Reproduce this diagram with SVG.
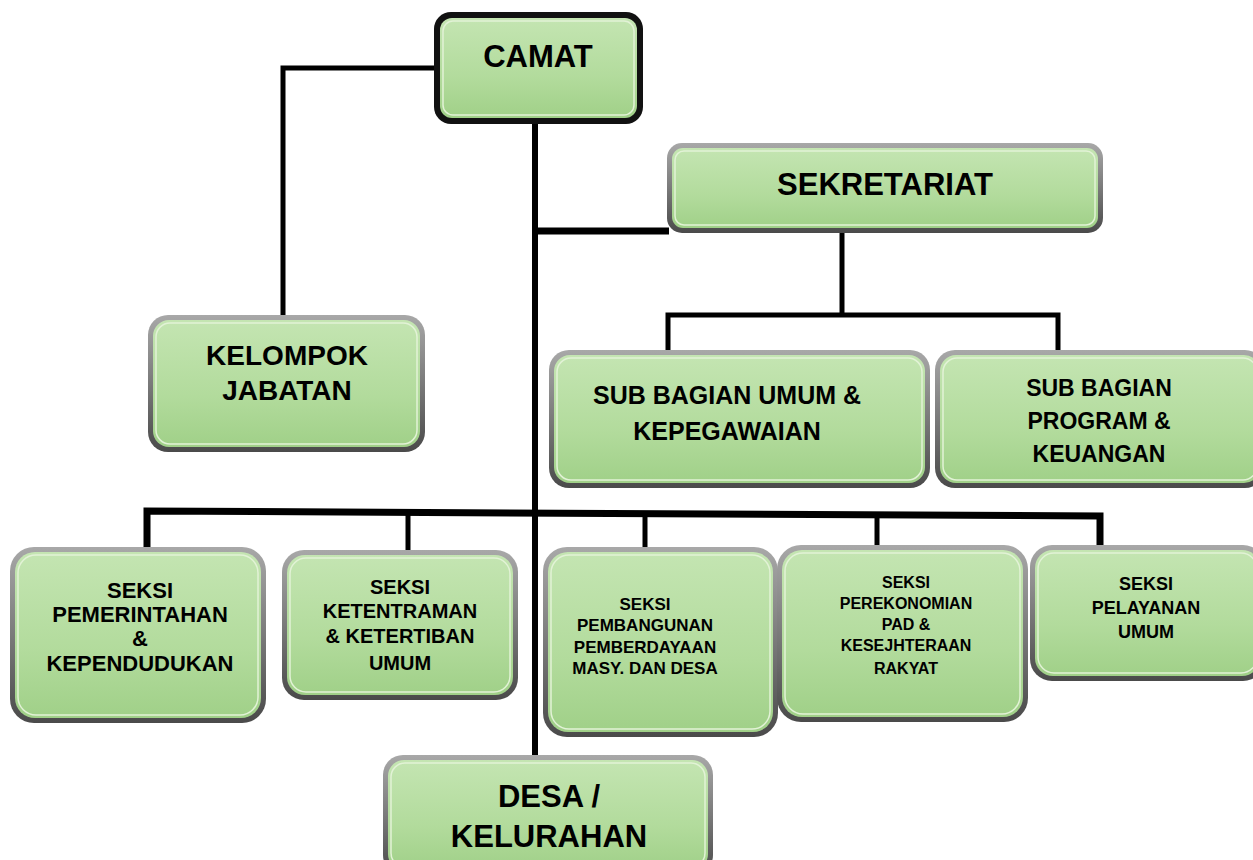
<svg xmlns="http://www.w3.org/2000/svg" width="1253" height="860" viewBox="0 0 1253 860">
<defs>
<linearGradient id="frame" x1="0" y1="0" x2="0" y2="1">
<stop offset="0" stop-color="#a8a8a8"/>
<stop offset="0.5" stop-color="#7a7a7a"/>
<stop offset="1" stop-color="#4a4a4a"/>
</linearGradient>
<linearGradient id="green" x1="0" y1="0" x2="0" y2="1">
<stop offset="0" stop-color="#c4e5b2"/>
<stop offset="0.6" stop-color="#b2db9c"/>
<stop offset="1" stop-color="#a0d088"/>
</linearGradient>
</defs>
<style>
.frame{fill:url(#frame);}
.frameB{fill:#111111;}
.fill{fill:url(#green);}
.hl{fill:none;stroke:#e2f2d6;stroke-width:1.5;}
.t{font-family:"Liberation Sans",Arial,sans-serif;font-weight:bold;fill:#000;text-anchor:middle;}
.ln{fill:none;stroke:#000;stroke-linejoin:miter;stroke-linecap:butt;}
</style>
<rect width="1253" height="860" fill="#ffffff"/>

<g id="connectors">
<path class="ln" d="M434,68 H283 V316" stroke-width="5"/>
<path class="ln" d="M535,124 V756" stroke-width="6"/>
<path class="ln" d="M535,231 H669" stroke-width="7"/>
<path class="ln" d="M842,233 V315" stroke-width="5"/>
<path class="ln" d="M668,351 V315 H1058 V351" stroke-width="5"/>
<path class="ln" d="M147,548 V511 L1100,516 V546" stroke-width="7"/>
<path class="ln" d="M408,513 V550" stroke-width="5"/>
<path class="ln" d="M645,514 V548" stroke-width="5"/>
<path class="ln" d="M877,515 V545" stroke-width="5"/>
</g>

<g id="camat">
<rect class="frameB" x="434" y="12" width="209" height="112" rx="17"/>
<rect class="fill" x="440" y="18" width="197" height="100" rx="12"/>
<rect class="hl" x="443" y="21" width="191" height="94" rx="10"/>
<text class="t" x="538" y="67" font-size="31">CAMAT</text>
</g>

<g id="sekretariat">
<rect class="frame" x="667" y="143" width="436" height="90" rx="15"/>
<rect class="fill" x="672" y="148" width="426" height="80" rx="11"/>
<rect class="hl" x="675" y="151" width="420" height="74" rx="9"/>
<text class="t" x="885" y="195" font-size="31">SEKRETARIAT</text>
</g>

<g id="kelompok-jabatan">
<rect class="frame" x="148" y="315" width="277" height="137" rx="20"/>
<rect class="fill" x="153" y="320" width="267" height="127" rx="16"/>
<rect class="hl" x="156" y="323" width="261" height="121" rx="14"/>
<text class="t" x="287" y="365" font-size="28">KELOMPOK</text>
<text class="t" x="287" y="400" font-size="28">JABATAN</text>
</g>

<g id="sub-umum">
<rect class="frame" x="549" y="350" width="381" height="138" rx="20"/>
<rect class="fill" x="554" y="355" width="371" height="128" rx="16"/>
<rect class="hl" x="557" y="358" width="365" height="122" rx="14"/>
<text class="t" x="727" y="404" font-size="25">SUB BAGIAN UMUM &amp;</text>
<text class="t" x="727" y="440" font-size="25">KEPEGAWAIAN</text>
</g>

<g id="sub-program">
<rect class="frame" x="935" y="350" width="330" height="138" rx="20"/>
<rect class="fill" x="940" y="355" width="320" height="128" rx="16"/>
<rect class="hl" x="943" y="358" width="314" height="122" rx="14"/>
<text class="t" x="1099" y="396" font-size="23">SUB BAGIAN</text>
<text class="t" x="1099" y="429" font-size="23">PROGRAM &amp;</text>
<text class="t" x="1099" y="462" font-size="23">KEUANGAN</text>
</g>

<g id="seksi-pemerintahan">
<rect class="frame" x="10" y="547" width="256" height="176" rx="24"/>
<rect class="fill" x="15" y="552" width="246" height="166" rx="20"/>
<rect class="hl" x="18" y="555" width="240" height="160" rx="18"/>
<text class="t" x="140" y="598" font-size="22">SEKSI</text>
<text class="t" x="140" y="622" font-size="22">PEMERINTAHAN</text>
<text class="t" x="140" y="646" font-size="22">&amp;</text>
<text class="t" x="140" y="671" font-size="22">KEPENDUDUKAN</text>
</g>

<g id="seksi-ketentraman">
<rect class="frame" x="282" y="550" width="236" height="150" rx="22"/>
<rect class="fill" x="287" y="555" width="226" height="140" rx="18"/>
<rect class="hl" x="290" y="558" width="220" height="134" rx="16"/>
<text class="t" x="400" y="594" font-size="20">SEKSI</text>
<text class="t" x="400" y="618" font-size="20">KETENTRAMAN</text>
<text class="t" x="400" y="643" font-size="20">&amp; KETERTIBAN</text>
<text class="t" x="400" y="670" font-size="20">UMUM</text>
</g>

<g id="seksi-pembangunan">
<rect class="frame" x="543" y="547" width="235" height="190" rx="24"/>
<rect class="fill" x="548" y="552" width="225" height="180" rx="20"/>
<rect class="hl" x="551" y="555" width="219" height="174" rx="18"/>
<text class="t" x="645" y="610" font-size="17">SEKSI</text>
<text class="t" x="645" y="631" font-size="17">PEMBANGUNAN</text>
<text class="t" x="645" y="653" font-size="17">PEMBERDAYAAN</text>
<text class="t" x="645" y="674" font-size="17">MASY. DAN DESA</text>
</g>

<g id="seksi-perekonomian">
<rect class="frame" x="777" y="545" width="251" height="177" rx="24"/>
<rect class="fill" x="782" y="550" width="241" height="167" rx="20"/>
<rect class="hl" x="785" y="553" width="235" height="161" rx="18"/>
<text class="t" x="906" y="588" font-size="16">SEKSI</text>
<text class="t" x="906" y="609" font-size="16">PEREKONOMIAN</text>
<text class="t" x="906" y="630" font-size="16">PAD &amp;</text>
<text class="t" x="906" y="651" font-size="16">KESEJHTERAAN</text>
<text class="t" x="906" y="674" font-size="16">RAKYAT</text>
</g>

<g id="seksi-pelayanan">
<rect class="frame" x="1030" y="545" width="235" height="136" rx="22"/>
<rect class="fill" x="1035" y="550" width="225" height="126" rx="18"/>
<rect class="hl" x="1038" y="553" width="219" height="120" rx="16"/>
<text class="t" x="1146" y="590" font-size="18">SEKSI</text>
<text class="t" x="1146" y="614" font-size="18">PELAYANAN</text>
<text class="t" x="1146" y="638" font-size="18">UMUM</text>
</g>

<g id="desa-kelurahan">
<rect class="frame" x="383" y="755" width="330" height="120" rx="20"/>
<rect class="fill" x="388" y="760" width="320" height="110" rx="16"/>
<rect class="hl" x="391" y="763" width="314" height="104" rx="14"/>
<text class="t" x="549" y="807" font-size="31">DESA /</text>
<text class="t" x="549" y="847" font-size="31">KELURAHAN</text>
</g>
</svg>
